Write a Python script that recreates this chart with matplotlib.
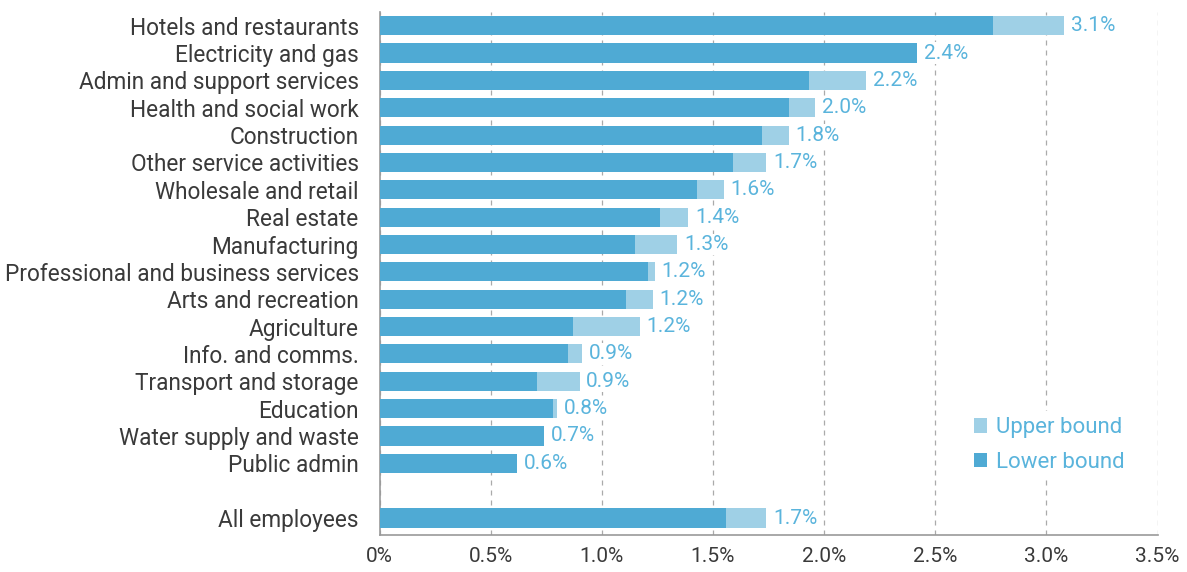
import matplotlib.pyplot as plt
import numpy as np

plt.rcParams['font.family'] = ['Roboto', 'DejaVu Sans']

categories = [
    "Hotels and restaurants", "Electricity and gas", "Admin and support services",
    "Health and social work", "Construction", "Other service activities",
    "Wholesale and retail", "Real estate", "Manufacturing",
    "Professional and business services", "Arts and recreation", "Agriculture",
    "Info. and comms.", "Transport and storage", "Education",
    "Water supply and waste", "Public admin", "All employees",
]
lower_bound = [2.76, 2.42, 1.93, 1.84, 1.72, 1.59, 1.43, 1.26, 1.15, 1.21,
               1.11, 0.87, 0.85, 0.71, 0.78, 0.74, 0.62, 1.56]
upper_bound = [3.08, 2.42, 2.19, 1.96, 1.84, 1.74, 1.55, 1.39, 1.34, 1.24,
               1.23, 1.17, 0.91, 0.90, 0.80, 0.74, 0.62, 1.74]
x_ticks = [0, 0.5, 1.0, 1.5, 2.0, 2.5, 3.0, 3.5]

DARK = "#4faad4"
LIGHT = "#9fd0e6"
TEXT = "#3a3a3a"
VALUE = "#5ab4dc"

lower = np.array(lower_bound)
upper = np.array(upper_bound)
# leave a blank row before the overall figure
pos = np.array(list(range(len(categories) - 1)) + [len(categories)])

fig = plt.figure(figsize=(11.87, 5.72), dpi=100)
ax = fig.add_axes([379.5 / 1187, 37 / 572, 778 / 1187, 523 / 572])

ax.barh(pos, lower, height=0.7, color=DARK, zorder=3, label="Lower bound")
ax.barh(pos, upper - lower, left=lower, height=0.7, color=LIGHT, zorder=3,
        label="Upper bound")

for p, u in zip(pos, upper):
    ax.text(u + 0.03, p, f"{u:.1f}%", va="center", ha="left", fontsize=15,
            color=VALUE, zorder=4,
            bbox=dict(facecolor="white", edgecolor="none", pad=1))

ax.set_xlim(0, 3.5)
ax.set_ylim(pos[-1] + 0.62, -0.5)
ax.set_yticks(pos)
ax.set_yticklabels(categories, fontsize=16.3, color=TEXT)
ax.set_xticks(x_ticks)
ax.set_xticklabels([f"{t:.1f}%" if t else "0%" for t in x_ticks],
                   fontsize=15, color=TEXT)
ax.tick_params(axis="both", length=0)
ax.tick_params(axis="x", pad=9)
ax.tick_params(axis="y", pad=15)

ax.xaxis.grid(True, linestyle=(0, (4, 4)), color="#aaaaaa", linewidth=0.9,
              zorder=0)
ax.set_axisbelow(True)
for side in ("top", "right"):
    ax.spines[side].set_visible(False)
for side in ("left", "bottom"):
    ax.spines[side].set_color("#999999")
    ax.spines[side].set_linewidth(1.2)

handles, labels = ax.get_legend_handles_labels()
leg = ax.legend(handles[::-1], labels[::-1], loc="center left",
                bbox_to_anchor=(0.741, 0.172), frameon=True, fontsize=16,
                handlelength=0.6, handleheight=0.6, handletextpad=0.4,
                labelspacing=0.6, borderpad=0.3)
leg.get_frame().set_facecolor("white")
leg.get_frame().set_edgecolor("none")
leg.get_frame().set_alpha(1)
for t in leg.get_texts():
    t.set_color(VALUE)

fig.savefig("out.png", dpi=100, facecolor="white")
